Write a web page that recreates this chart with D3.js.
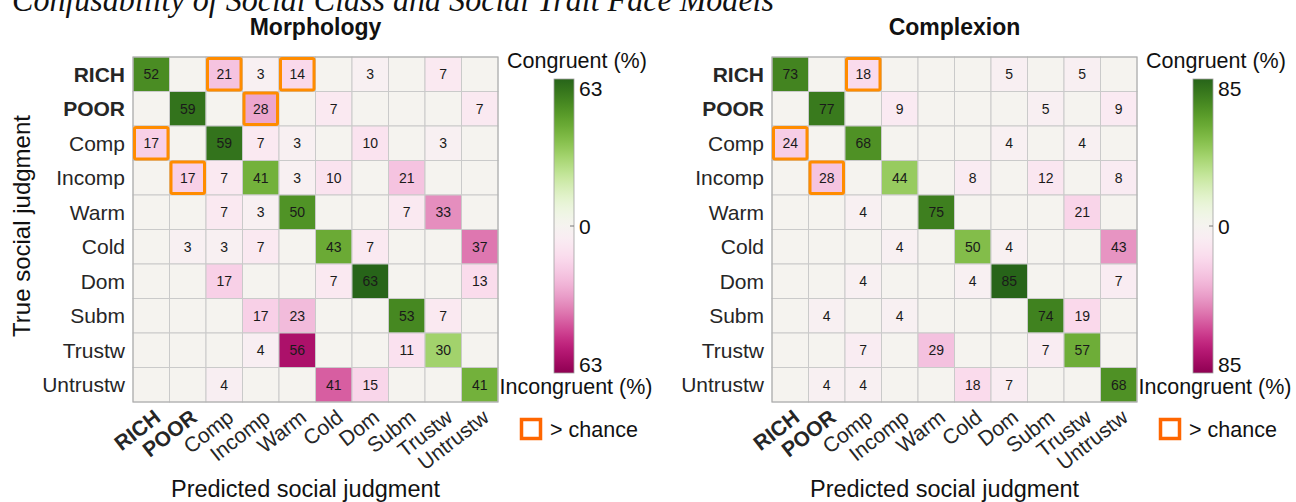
<!DOCTYPE html>
<html>
<head>
<meta charset="utf-8">
<script src="https://cdn.jsdelivr.net/npm/d3@7"></script>
<style>
  body { margin: 0; background: #fff; }
  svg { display: block; }
  text { font-family: "Liberation Sans", Arial, sans-serif; }
</style>
</head>
<body>
<svg id="chart" width="1296" height="502"></svg>
<script>
// categories (rows = true judgment, columns = predicted judgment)
const categories = ["RICH", "POOR", "Comp", "Incomp", "Warm", "Cold", "Dom", "Subm", "Trustw", "Untrustw"];
const boldCats = ["RICH", "POOR"];

// Morphology confusion matrix (%), 0 = empty cell
const morphValues = [
    [52, 0, 21, 3, 14, 0, 3, 0, 7, 0],
    [0, 59, 0, 28, 0, 7, 0, 0, 0, 7],
    [17, 0, 59, 7, 3, 0, 10, 0, 3, 0],
    [0, 17, 7, 41, 3, 10, 0, 21, 0, 0],
    [0, 0, 7, 3, 50, 0, 0, 7, 33, 0],
    [0, 3, 3, 7, 0, 43, 7, 0, 0, 37],
    [0, 0, 17, 0, 0, 7, 63, 0, 0, 13],
    [0, 0, 0, 17, 23, 0, 0, 53, 7, 0],
    [0, 0, 0, 4, 56, 0, 0, 11, 30, 0],
    [0, 0, 4, 0, 0, 41, 15, 0, 0, 41]
];
const morphChance = [[0, 2], [0, 4], [1, 3], [2, 0], [3, 1]]; // [row, col]
const morphMax = 63;

// Complexion confusion matrix (%)
const complexValues = [
    [73, 0, 18, 0, 0, 0, 5, 0, 5, 0],
    [0, 77, 0, 9, 0, 0, 0, 5, 0, 9],
    [24, 0, 68, 0, 0, 0, 4, 0, 4, 0],
    [0, 28, 0, 44, 0, 8, 0, 12, 0, 8],
    [0, 0, 4, 0, 75, 0, 0, 0, 21, 0],
    [0, 0, 0, 4, 0, 50, 4, 0, 0, 43],
    [0, 0, 4, 0, 0, 4, 85, 0, 0, 7],
    [0, 4, 0, 4, 0, 0, 0, 74, 19, 0],
    [0, 0, 7, 0, 29, 0, 0, 7, 57, 0],
    [0, 4, 4, 0, 0, 18, 7, 0, 0, 68]
];
const complexChance = [[0, 2], [2, 0], [3, 1]];
const complexMax = 85;

const svg = d3.select("#chart");
const textCol = "#262626";

// title at top (cut off in the original)
svg.append("text")
    .attr("x", 12)
    .attr("y", 11)
    .attr("textLength", 762)
    .attr("lengthAdjust", "spacingAndGlyphs")
    .style("font-family", "'Liberation Serif', 'Times New Roman', serif")
    .style("font-style", "italic")
    .style("font-size", "34px")
    .style("fill", "#111")
    .text("Confusability of Social Class and Social Trait Face Models");

// gradient for the colorbars
const defs = svg.append("defs");
const grad = defs.append("linearGradient")
    .attr("id", "piyg")
    .attr("x1", 0).attr("y1", 1).attr("x2", 0).attr("y2", 0);
d3.range(0, 1.0001, 0.02).forEach(t => {
    grad.append("stop")
        .attr("offset", t)
        .attr("stop-color", d3.interpolatePiYG(t));
});

function drawMatrix(x0, title, values, chance, maxV) {
    const gridW = 365, gridH = 345, y0 = 57;
    const g = svg.append("g");

    const x = d3.scaleBand().domain(categories).range([x0, x0 + gridW]);
    const y = d3.scaleBand().domain(categories).range([y0, y0 + gridH]);

    const cells = [];
    values.forEach((row, i) => row.forEach((v, j) => cells.push({ r: i, c: j, v: v })));

    const colorOf = d => {
        const t = d.r === d.c ? 0.5 + 0.5 * d.v / maxV : 0.5 - 0.5 * d.v / maxV;
        return d3.interpolatePiYG(t);
    };

    g.selectAll("rect.cell")
        .data(cells)
        .join("rect")
        .attr("class", "cell")
        .attr("x", d => x(categories[d.c]))
        .attr("y", d => y(categories[d.r]))
        .attr("width", x.bandwidth())
        .attr("height", y.bandwidth())
        .attr("fill", colorOf)
        .attr("stroke", "#cacaca")
        .attr("stroke-width", 1);

    g.selectAll("text.val")
        .data(cells.filter(d => d.v > 0))
        .join("text")
        .attr("class", "val")
        .attr("x", d => x(categories[d.c]) + x.bandwidth() / 2)
        .attr("y", d => y(categories[d.r]) + y.bandwidth() / 2)
        .attr("dy", "0.36em")
        .attr("text-anchor", "middle")
        .style("font-size", "14px")
        .style("fill", "#1a1a1a")
        .text(d => d.v);

    // outer frame
    g.append("rect")
        .attr("x", x0).attr("y", y0)
        .attr("width", gridW).attr("height", gridH)
        .attr("fill", "none")
        .attr("stroke", "#aaaaaa");

    // > chance boxes
    g.selectAll("rect.chance")
        .data(chance)
        .join("rect")
        .attr("class", "chance")
        .attr("x", d => x(categories[d[1]]) + 1.5)
        .attr("y", d => y(categories[d[0]]) + 1.5)
        .attr("width", x.bandwidth() - 3)
        .attr("height", y.bandwidth() - 3)
        .attr("rx", 1.5)
        .attr("fill", "none")
        .attr("stroke", "#ff8c00")
        .attr("stroke-width", 3);

    // row labels
    g.selectAll("text.ylab")
        .data(categories)
        .join("text")
        .attr("class", "ylab")
        .attr("x", x0 - 8)
        .attr("y", d => y(d) + y.bandwidth() / 2)
        .attr("dy", "0.36em")
        .attr("text-anchor", "end")
        .style("font-size", "21px")
        .style("font-weight", d => boldCats.includes(d) ? "bold" : "normal")
        .style("fill", textCol)
        .text(d => d);

    // column labels (rotated)
    g.selectAll("text.xlab")
        .data(categories)
        .join("text")
        .attr("class", "xlab")
        .attr("transform", d => `translate(${x(d) + x.bandwidth() / 2 + 6},${y0 + gridH + 12}) rotate(-38)`)
        .attr("dy", "0.36em")
        .attr("text-anchor", "end")
        .style("font-size", "21px")
        .style("font-weight", d => boldCats.includes(d) ? "bold" : "normal")
        .style("fill", textCol)
        .text(d => d);

    // panel title
    g.append("text")
        .attr("x", x0 + gridW / 2)
        .attr("y", 35)
        .attr("text-anchor", "middle")
        .style("font-size", "23px")
        .style("font-weight", "bold")
        .style("fill", "#111")
        .text(title);

    // x axis title
    g.append("text")
        .attr("x", x0 + gridW / 2 - 10)
        .attr("y", 497)
        .attr("text-anchor", "middle")
        .style("font-size", "23.5px")
        .style("fill", "#111")
        .text("Predicted social judgment");

    // colorbar
    const cbX = x0 + gridW + 56, cbW = 20, cbTop = 79, cbBot = 373;
    const cb = d3.scaleLinear().domain([-maxV, maxV]).range([cbBot, cbTop]);

    g.append("rect")
        .attr("x", cbX).attr("y", cbTop)
        .attr("width", cbW).attr("height", cbBot - cbTop)
        .attr("fill", "url(#piyg)")
        .attr("stroke", "#a0a0a0")
        .attr("stroke-width", 0.8);

    g.append("line")
        .attr("x1", cbX + cbW - 4).attr("x2", cbX + cbW)
        .attr("y1", cb(0)).attr("y2", cb(0))
        .attr("stroke", "#777");

    const cbTicks = [maxV, 0, -maxV];
    g.selectAll("text.cbt")
        .data(cbTicks)
        .join("text")
        .attr("class", "cbt")
        .attr("x", cbX + cbW + 5)
        .attr("y", d => cb(d))
        .attr("dy", d => d === maxV ? "0.8em" : d === 0 ? "0.36em" : "-0.05em")
        .style("font-size", "21px")
        .style("fill", "#111")
        .text(d => Math.abs(d));

    g.append("text")
        .attr("x", cbX + cbW / 2 + 13)
        .attr("y", 68)
        .attr("text-anchor", "middle")
        .style("font-size", "21.5px")
        .style("fill", "#111")
        .text("Congruent (%)");

    g.append("text")
        .attr("x", cbX + cbW / 2 + 12)
        .attr("y", 394)
        .attr("text-anchor", "middle")
        .style("font-size", "21.5px")
        .style("fill", "#111")
        .text("Incongruent (%)");

    // legend
    g.append("rect")
        .attr("x", cbX - 32.5).attr("y", 419.5)
        .attr("width", 19).attr("height", 19)
        .attr("fill", "none")
        .attr("stroke", "#ff6600")
        .attr("stroke-width", 3.5);

    g.append("text")
        .attr("x", cbX - 4)
        .attr("y", 437)
        .style("font-size", "21.5px")
        .style("fill", "#111")
        .text("> chance");
}

drawMatrix(133, "Morphology", morphValues, morphChance, morphMax);
drawMatrix(772, "Complexion", complexValues, complexChance, complexMax);

// y axis title (left only)
svg.append("text")
    .attr("transform", "translate(30,226) rotate(-90)")
    .attr("text-anchor", "middle")
    .style("font-size", "24px")
    .style("fill", "#111")
    .text("True social judgment");
</script>
</body>
</html>
